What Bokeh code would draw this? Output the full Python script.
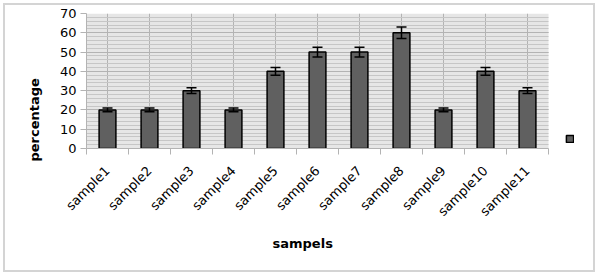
import math
from bokeh.plotting import figure
from bokeh.models import (ColumnDataSource, Whisker, FixedTicker, Title, BoxAnnotation,
                          Legend, LegendItem, Range1d)
from bokeh.embed import file_html
from bokeh.resources import INLINE

categories = ["sample1", "sample2", "sample3", "sample4", "sample5", "sample6",
              "sample7", "sample8", "sample9", "sample10", "sample11"]
values = [20, 20, 30, 20, 40, 50, 50, 60, 20, 40, 30]
errors = [1, 1, 1.5, 1, 2, 2.5, 2.5, 3, 1, 2, 1.5]
y_ticks = [0, 10, 20, 30, 40, 50, 60, 70]

n = len(categories)
xs = list(range(1, n + 1))
source = ColumnDataSource(dict(
    x=xs, top=values,
    upper=[v + e for v, e in zip(values, errors)],
    lower=[v - e for v, e in zip(values, errors)],
))

FONT = "DejaVu Sans"

p = figure(width=600, height=276, output_backend="svg", toolbar_location=None,
           x_range=Range1d(0.5, n + 1.5), y_range=Range1d(y_ticks[0], y_ticks[-1]),
           min_border_left=86, min_border_right=10, min_border_top=13, min_border_bottom=128)
p.background_fill_color = "white"
p.border_fill_color = "white"
p.outline_line_color = None
p.stylesheets = [
    ":host { position: relative; }"
    ":host::after { content: ''; position: absolute; left: 3px; top: 3px; right: 5px; bottom: 4px;"
    " border: 2px solid #d4d4d4; pointer-events: none; z-index: 1000; }"
]

p.add_layout(BoxAnnotation(left=0.5, right=n + 0.5, bottom=y_ticks[0], top=y_ticks[-1],
                           fill_color="#e6e6e6", fill_alpha=1, line_color=None,
                           level="image"))

p.yaxis.ticker = FixedTicker(ticks=y_ticks, minor_ticks=[t for t in range(0, 71, 2)])
p.yaxis.axis_line_color = "#b3b3b3"
p.yaxis.major_tick_line_color = "#b3b3b3"
p.yaxis.major_tick_in = 0
p.yaxis.major_tick_out = 6
p.yaxis.minor_tick_line_color = None
p.yaxis.major_label_text_font = FONT
p.yaxis.major_label_text_font_size = "13px"
p.yaxis.major_label_text_color = "black"
p.yaxis.major_label_standoff = 4

p.xaxis.ticker = FixedTicker(ticks=xs, minor_ticks=[x - 0.5 for x in xs] + [n + 0.5])
p.xaxis.bounds = (0.5, n + 0.5)
p.xaxis.major_label_overrides = {x: c for x, c in zip(xs, categories)}
p.xaxis.major_label_orientation = math.pi / 4
p.xaxis.major_tick_line_color = None
p.xaxis.minor_tick_line_color = "#b3b3b3"
p.xaxis.minor_tick_in = 0
p.xaxis.minor_tick_out = 6
p.xaxis.axis_line_color = "#b3b3b3"
p.xaxis.major_label_text_font = FONT
p.xaxis.major_label_text_font_size = "13px"
p.xaxis.major_label_text_color = "black"
p.xaxis.major_label_standoff = 14

p.ygrid.grid_line_color = "#b3b3b3"
p.ygrid.minor_grid_line_color = "#c6c6c6"
p.xgrid.grid_line_color = "#b3b3b3"
yg = p.ygrid[0]
if "cross_bounds" in yg.properties():
    yg.cross_bounds = (0.5, n + 0.5)

bars = p.vbar(x="x", top="top", width=0.4, source=source,
              fill_color="#606060", line_color="black", line_width=1.5)

wh = Whisker(base="x", upper="upper", lower="lower", source=source,
             line_color="black", line_width=1.5, level="overlay")
wh.upper_head.size = 10
wh.lower_head.size = 10
wh.upper_head.line_color = "black"
wh.lower_head.line_color = "black"
wh.upper_head.line_width = 1.5
wh.lower_head.line_width = 1.5
p.add_layout(wh)

legend = Legend(items=[LegendItem(label=" ", renderers=[bars])],
                location=(479, 5), padding=0, margin=0, spacing=0,
                glyph_width=9, glyph_height=9, label_standoff=0,
                label_text_font_size="4px", label_height=9, label_width=1,
                border_line_color=None, background_fill_alpha=0)
p.add_layout(legend)

p.add_layout(Title(text="percentage", align="left", offset=-13, standoff=29,
                   text_font=FONT, text_font_size="13px", text_font_style="bold",
                   text_color="black"), "left")
p.add_layout(Title(text="sampels", align="left", offset=186, standoff=12,
                   text_font=FONT, text_font_size="13px", text_font_style="bold",
                   text_color="black"), "below")

open("out.html", "w").write(file_html(p, INLINE))
